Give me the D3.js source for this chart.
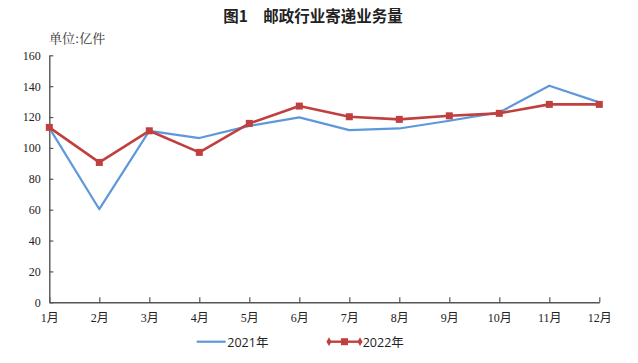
<!DOCTYPE html>
<html lang="zh">
<head>
  <meta charset="UTF-8">
  <title>图1 邮政行业寄递业务量</title>
  <script src="https://d3js.org/d3.v7.min.js"></script>
  <style>
    body { margin: 0; background: #fff; }
  </style>
</head>
<body>
<div id="chart"></div>
<script>
// data (亿件)
const months = ["1月", "2月", "3月", "4月", "5月", "6月", "7月", "8月", "9月", "10月", "11月", "12月"];
const values2021 = [113, 60.3, 111, 106.4, 114.3, 119.8, 111.5, 112.6, 117.6, 123, 140.3, 129.5];
const values2022 = [113.3, 90.6, 111.1, 97.1, 115.9, 127.1, 120.2, 118.5, 120.8, 122.4, 128.2, 128.2];
const yTicks = [0, 20, 40, 60, 80, 100, 120, 140, 160];

const width = 638, height = 363;
const serif = "'Liberation Serif', 'Times New Roman', 'Noto Sans CJK SC', serif";
const sans = "'Open Sans', 'Noto Sans CJK SC', sans-serif";
const blue = "#5f97dc", red = "#c0403f", axisColor = "#555";

const svg = d3.select("#chart").append("svg")
  .attr("width", width)
  .attr("height", height);

const x = d3.scalePoint().domain(months).range([49.3, 599.3]);
const y = d3.scaleLinear().domain([0, 160]).range([302.3, 55.3]);

// title
svg.append("text")
  .attr("x", 313).attr("y", 22)
  .attr("text-anchor", "middle")
  .style("font-family", "'Noto Sans CJK SC', sans-serif")
  .style("font-weight", "bold")
  .style("font-size", "15.5px")
  .style("fill", "#222")
  .text("图1\u3000邮政行业寄递业务量");

// unit
svg.append("text")
  .attr("x", 49).attr("y", 42.5)
  .style("font-family", "'Noto Serif CJK SC', " + serif)
  .style("font-size", "13px")
  .style("fill", "#333")
  .text("单位:亿件");

// axes
const yAxis = svg.append("g")
  .attr("transform", `translate(${x(months[0])},0)`)
  .call(d3.axisLeft(y).tickValues(yTicks).tickSizeInner(-4).tickSizeOuter(0).tickPadding(8.5));

const xAxis = svg.append("g")
  .attr("transform", `translate(0,${y(0)})`)
  .call(d3.axisBottom(x).tickSizeInner(-5).tickSizeOuter(0).tickPadding(11));

[xAxis, yAxis].forEach(g => {
  g.select(".domain").attr("stroke", axisColor).attr("stroke-width", 1.4);
  g.selectAll(".tick line").attr("stroke", axisColor).attr("stroke-width", 1.2);
  g.selectAll(".tick text")
    .style("font-family", serif)
    .style("font-size", "12px")
    .style("fill", "#222");
});

// lines
const line = d3.line().x((d, i) => x(months[i])).y(d => y(d));

svg.append("path")
  .datum(values2021)
  .attr("fill", "none")
  .attr("stroke", blue)
  .attr("stroke-width", 2.2)
  .attr("stroke-linejoin", "round")
  .attr("d", line);

svg.append("path")
  .datum(values2022)
  .attr("fill", "none")
  .attr("stroke", red)
  .attr("stroke-width", 2.6)
  .attr("stroke-linejoin", "round")
  .attr("d", line);

svg.selectAll(".m2022")
  .data(values2022)
  .enter().append("rect")
  .attr("class", "m2022")
  .attr("x", (d, i) => x(months[i]) - 3.5)
  .attr("y", d => y(d) - 3.5)
  .attr("width", 7).attr("height", 7)
  .attr("fill", red);

// legend
const leg = svg.append("g").attr("class", "legend");
leg.append("line")
  .attr("x1", 196.7).attr("x2", 225.7).attr("y1", 341.7).attr("y2", 341.7)
  .attr("stroke", blue).attr("stroke-width", 2.2);
leg.append("text")
  .attr("x", 227.3).attr("y", 346.5)
  .style("font-family", sans).style("font-size", "12.5px").style("fill", "#222")
  .text("2021年");

leg.append("line")
  .attr("x1", 329).attr("x2", 360).attr("y1", 341.7).attr("y2", 341.7)
  .attr("stroke", red).attr("stroke-width", 2.4);
[329, 360].forEach(cx => {
  leg.append("path")
    .attr("d", d3.symbol(d3.symbolDiamond, 22)())
    .attr("transform", `translate(${cx},341.7)`)
    .attr("fill", red);
});
leg.append("rect")
  .attr("x", 341).attr("y", 338.2).attr("width", 7).attr("height", 7)
  .attr("fill", red);
leg.append("text")
  .attr("x", 362.7).attr("y", 346.5)
  .style("font-family", sans).style("font-size", "12.5px").style("fill", "#222")
  .text("2022年");
</script>
</body>
</html>
